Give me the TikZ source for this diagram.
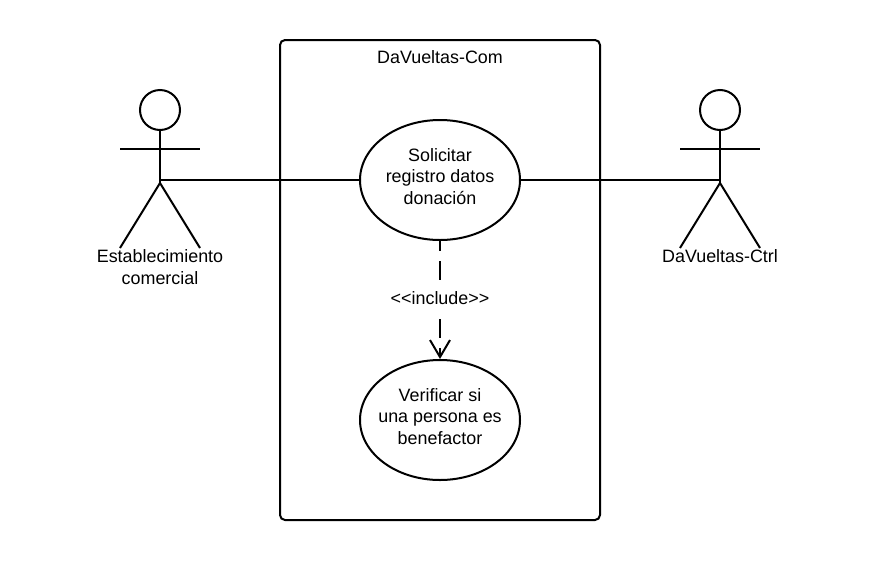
\documentclass[tikz,border=0pt]{standalone}
\usepackage{fontspec}
\setmainfont{Liberation Sans}
\usetikzlibrary{arrows.meta,shapes.geometric}
\tikzset{
  x=1pt,y=-1pt,
  ln/.style={line width=2pt,draw=black},
  lbl/.style={font=\fontsize{17.9}{21.7}\selectfont,align=center,inner sep=0pt,text=black},
  uc/.style={ln,ellipse,minimum width=160pt,minimum height=120pt,lbl,inner xsep=-30pt,inner ysep=0pt},
  openv/.style={-{Straight Barb[length=17pt,width=20pt,line width=2pt,harpoon=false]}},
}
\begin{document}
\begin{tikzpicture}[line cap=butt,line join=miter]
\useasboundingbox[fill=white] (0,0) rectangle (880,560);
\node[ln,rectangle,rounded corners=5pt,minimum width=320pt,minimum height=480pt,inner sep=0pt] (sys) at (440,280) {};
\node[lbl] (systitle) at (440,57.5) {DaVueltas-Com};
\node[uc] (a) at (440,180) {Solicitar\\registro datos\\donación\\[-14.2pt]\mbox{}};
\node[uc] (b) at (440,420) {Verificar si\\una persona es\\benefactor\\[-14.2pt]\mbox{}};
% left actor
\node[ln,circle,minimum size=40pt,inner sep=0pt] (h1) at (160,110) {};
\coordinate (hip1) at (160,183);
\coordinate (conn1) at (159,180);
\coordinate (al1) at (120,149);
\coordinate (ar1) at (200,149);
\coordinate (fl1) at (120,248);
\coordinate (fr1) at (200,248);
\draw[ln] (h1.south) -- (hip1);
\draw[ln] (al1) -- (ar1);
\draw[ln] (fl1) -- (hip1) -- (fr1);
\node[lbl] (t1) at (160,267) {Establecimiento\\comercial};
% right actor
\node[ln,circle,minimum size=40pt,inner sep=0pt] (h2) at (720,110) {};
\coordinate (hip2) at (720,183);
\coordinate (conn2) at (721,180);
\coordinate (al2) at (680,149);
\coordinate (ar2) at (760,149);
\coordinate (fl2) at (680,248);
\coordinate (fr2) at (760,248);
\draw[ln] (h2.south) -- (hip2);
\draw[ln] (al2) -- (ar2);
\draw[ln] (fl2) -- (hip2) -- (fr2);
\node[lbl] (t2) at (720,256) {DaVueltas-Ctrl};
% connectors
\draw[ln] (conn1) -- (a);
\draw[ln] (a) -- (conn2);
\draw[ln,dash pattern=on 19pt off 10pt,dash phase=9pt,openv] (a) -- (b);
\node[lbl,fill=white,inner xsep=2pt,inner ysep=6pt] (inc) at (440,298) {{<}{<}include{>}{>}};
\end{tikzpicture}
\end{document}
